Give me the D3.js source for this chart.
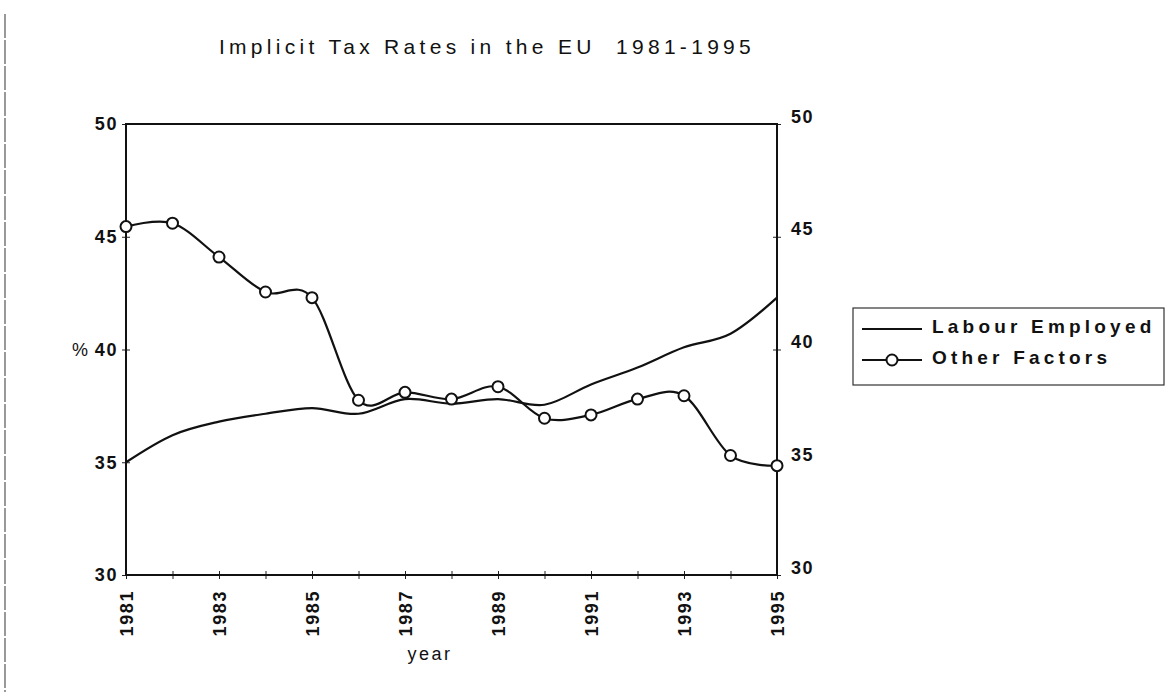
<!DOCTYPE html>
<html lang="en">
<head>
    <meta charset="UTF-8" />
    <title>Implicit Tax Rates in the EU 1981-1995</title>
    <script src="https://d3js.org/d3.v7.min.js"></script>
    <style>
        body { margin: 0; background: #fff; }
    </style>
</head>
<body>
    <div id="chart"></div>

    <script>
        // values
        const years = d3.range(1981, 1996)
        const labourEmployed = [35.0, 36.2, 36.8, 37.15, 37.4, 37.15, 37.8, 37.6, 37.8, 37.55, 38.45, 39.2, 40.1, 40.7, 42.3]
        const otherFactors = [45.45, 45.6, 44.1, 42.55, 42.3, 37.75, 38.1, 37.8, 38.35, 36.95, 37.1, 37.8, 37.95, 35.3, 34.85]
        const yTicks = [30, 35, 40, 45, 50]
        const xLabelYears = [1981, 1983, 1985, 1987, 1989, 1991, 1993, 1995]
        const seriesNames = ["Labour Employed", "Other Factors"]

        const width = 1168
        const height = 698
        const margin = ({ top: 124, right: 391, bottom: 123, left: 126 })

        const x = d3.scaleLinear()
            .domain([1981, 1995])
            .range([margin.left, width - margin.right])

        const y = d3.scaleLinear()
            .domain([30, 50])
            .range([height - margin.bottom, margin.top])

        const svg = d3.select("#chart").append("svg")
            .attr("width", width)
            .attr("height", height)
            .attr("viewBox", [0, 0, width, height])
            .style("font-family", "Arial, 'Liberation Sans', sans-serif")

        // faint edge of the scanned page
        svg.append("line")
            .attr("x1", 5).attr("x2", 5)
            .attr("y1", 14).attr("y2", 692)
            .attr("stroke", "#555")
            .attr("stroke-width", 1.2)
            .attr("stroke-dasharray", "24 2")

        svg.append("text")
            .attr("x", 487)
            .attr("y", 54)
            .attr("text-anchor", "middle")
            .attr("font-size", 21)
            .attr("letter-spacing", 4.3)
            .attr("fill", "#111")
            .style("white-space", "pre")
            .text("Implicit Tax Rates in the EU  1981-1995")

        // crossing ticks (both sides of the axis line)
        const crossTicks = g => g.selectAll(".tick line").attr("x1", -4).attr("x2", 4)
        const crossTicksV = g => g.selectAll(".tick line").attr("y1", -4).attr("y2", 4)

        const labelStyle = sel => sel
            .attr("font-size", 18)
            .attr("font-weight", "bold")
            .attr("letter-spacing", 1.6)
            .attr("fill", "#111")

        const yAxisLeft = g => g
            .attr("transform", `translate(${margin.left},0)`)
            .call(d3.axisLeft(y).tickValues(yTicks).tickSize(4).tickPadding(4))
            .call(g => g.select(".domain").remove())
            .call(crossTicks)
            .call(g => g.selectAll(".tick text").call(labelStyle))

        const yAxisRight = g => g
            .attr("transform", `translate(${width - margin.right},0)`)
            .call(d3.axisRight(y).tickValues(yTicks).tickSize(4).tickPadding(10))
            .call(g => g.select(".domain").remove())
            .call(crossTicks)
            .call(g => g.selectAll(".tick text")
                .attr("dy", "-0.1em")
                .call(labelStyle))

        const xAxis = g => g
            .attr("transform", `translate(0,${height - margin.bottom})`)
            .call(d3.axisBottom(x).tickValues(years).tickSize(4)
                .tickFormat(d => xLabelYears.includes(d) ? d : ""))
            .call(g => g.select(".domain").remove())
            .call(crossTicksV)
            .call(g => g.selectAll(".tick text")
                .attr("transform", "rotate(-90)")
                .attr("text-anchor", "end")
                .attr("x", -15)
                .attr("y", 0)
                .attr("dy", "0.36em")
                .call(labelStyle))

        svg.append("g").call(xAxis)
        svg.append("g").call(yAxisLeft)
        svg.append("g").call(yAxisRight)

        svg.selectAll(".tick line").attr("stroke", "#222").attr("stroke-width", 1)

        // plot frame
        svg.append("rect")
            .attr("x", margin.left)
            .attr("y", margin.top)
            .attr("width", width - margin.left - margin.right)
            .attr("height", height - margin.top - margin.bottom)
            .attr("fill", "none")
            .attr("stroke", "#111")
            .attr("stroke-width", 2)

        svg.append("text")
            .attr("x", 80)
            .attr("y", y(40))
            .attr("dy", "0.36em")
            .attr("text-anchor", "middle")
            .attr("font-size", 18)
            .attr("fill", "#111")
            .text("%")

        svg.append("text")
            .attr("x", 430)
            .attr("y", 660)
            .attr("text-anchor", "middle")
            .attr("font-size", 18)
            .attr("letter-spacing", 2.5)
            .attr("fill", "#111")
            .text("year")

        const line = d3.line()
            .x((d, i) => x(years[i]))
            .y(d => y(d))
            .curve(d3.curveCatmullRom.alpha(0))

        svg.append("path")
            .datum(labourEmployed)
            .attr("fill", "none")
            .attr("stroke", "#111")
            .attr("stroke-width", 2.2)
            .attr("d", line)

        svg.append("path")
            .datum(otherFactors)
            .attr("fill", "none")
            .attr("stroke", "#111")
            .attr("stroke-width", 2.2)
            .attr("d", line)

        svg.append("g")
            .selectAll("circle")
            .data(otherFactors)
            .join("circle")
            .attr("cx", (d, i) => x(years[i]))
            .attr("cy", d => y(d))
            .attr("r", 5.5)
            .attr("fill", "#fff")
            .attr("stroke", "#111")
            .attr("stroke-width", 2)

        // legend
        const legend = svg.append("g").attr("transform", "translate(853,308)")

        legend.append("rect")
            .attr("width", 311)
            .attr("height", 77)
            .attr("fill", "none")
            .attr("stroke", "#333")
            .attr("stroke-width", 1.2)

        const rows = [18, 49]
        legend.selectAll("line.key")
            .data(seriesNames)
            .join("line")
            .attr("class", "key")
            .attr("x1", 9).attr("x2", 69)
            .attr("y1", (d, i) => rows[i] + 3).attr("y2", (d, i) => rows[i] + 3)
            .attr("stroke", "#111")
            .attr("stroke-width", 2)

        legend.append("circle")
            .attr("cx", 39)
            .attr("cy", rows[1] + 3)
            .attr("r", 5.5)
            .attr("fill", "#fff")
            .attr("stroke", "#111")
            .attr("stroke-width", 2)

        legend.selectAll("text")
            .data(seriesNames)
            .join("text")
            .attr("x", 79)
            .attr("y", (d, i) => rows[i])
            .attr("dy", "0.36em")
            .attr("font-size", 19)
            .attr("font-weight", "bold")
            .attr("letter-spacing", 4.2)
            .attr("fill", "#111")
            .text(d => d)
    </script>
</body>
</html>
